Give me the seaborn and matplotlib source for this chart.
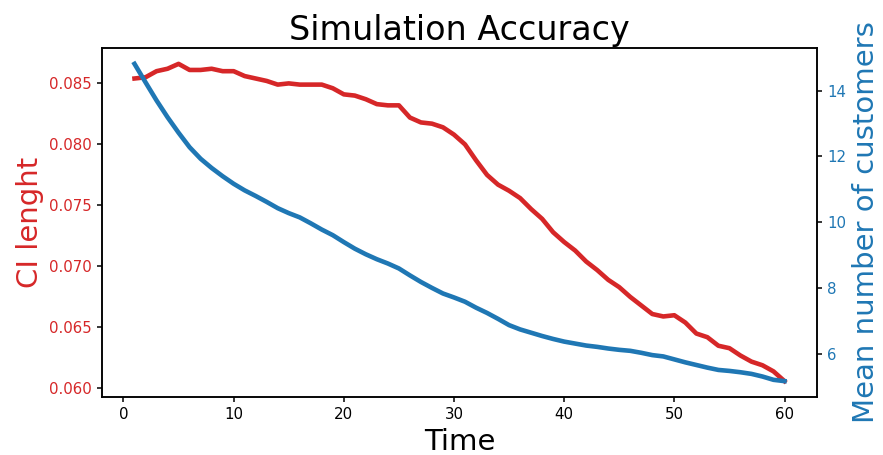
import matplotlib
matplotlib.use("Agg")
import matplotlib.pyplot as plt
import seaborn as sns
import pandas as pd

time = list(range(1, 61))
ci_length = [0.0854, 0.0855, 0.0860, 0.0862, 0.0866, 0.0861, 0.0861, 0.0862, 0.0860, 0.0860,
             0.0856, 0.0854, 0.0852, 0.0849, 0.0850, 0.0849, 0.0849, 0.0849, 0.0846, 0.0841,
             0.0840, 0.0837, 0.0833, 0.0832, 0.0832, 0.0822, 0.0818, 0.0817, 0.0814, 0.0808,
             0.0800, 0.0787, 0.0775, 0.0767, 0.0762, 0.0756, 0.0747, 0.0739, 0.0728, 0.0720,
             0.0713, 0.0704, 0.0697, 0.0689, 0.0683, 0.0675, 0.0668, 0.0661, 0.0659, 0.0660,
             0.0654, 0.0645, 0.0642, 0.0635, 0.0633, 0.0627, 0.0622, 0.0619, 0.0614, 0.0606]
mean_customers = [14.81, 14.25, 13.70, 13.19, 12.72, 12.28, 11.93, 11.65, 11.40, 11.17,
                  10.97, 10.80, 10.62, 10.43, 10.28, 10.15, 9.97, 9.78, 9.61, 9.40,
                  9.20, 9.03, 8.88, 8.75, 8.60, 8.39, 8.19, 8.01, 7.84, 7.72,
                  7.59, 7.41, 7.25, 7.07, 6.88, 6.75, 6.65, 6.55, 6.46, 6.38,
                  6.32, 6.26, 6.22, 6.17, 6.13, 6.10, 6.04, 5.97, 5.93, 5.84,
                  5.75, 5.67, 5.59, 5.52, 5.49, 5.45, 5.40, 5.32, 5.22, 5.18]

df = pd.DataFrame({"Time": time, "CI": ci_length, "Mean": mean_customers})

plt.rcParams["axes.linewidth"] = 1.1
plt.rcParams["xtick.major.width"] = 1.1
plt.rcParams["ytick.major.width"] = 1.1
plt.rcParams["xtick.major.size"] = 3.8
plt.rcParams["ytick.major.size"] = 3.8
plt.rcParams["xtick.labelsize"] = 10.8
plt.rcParams["ytick.labelsize"] = 10.8

fig = plt.figure(figsize=(8.83, 4.55), dpi=100)
ax = fig.add_axes([102/883, 1-397/455, (817-102)/883, (397-48)/455])
red = "tab:red"
blue = "tab:blue"

sns.lineplot(data=df, x="Time", y="CI", ax=ax, color=red, linewidth=3.3)
ax.set_xlabel("Time", fontsize=21)
ax.set_ylabel("CI lenght", fontsize=21, color=red)
ax.tick_params(axis="y", labelcolor=red)
ax.set_title("Simulation Accuracy", fontsize=24)

ax2 = ax.twinx()
sns.lineplot(data=df, x="Time", y="Mean", ax=ax2, color=blue, linewidth=3.3)
ax2.set_ylabel("Mean number of customers", fontsize=21, color=blue)
ax2.tick_params(axis="y", labelcolor=blue)

fig.savefig("out.png", dpi=100)
